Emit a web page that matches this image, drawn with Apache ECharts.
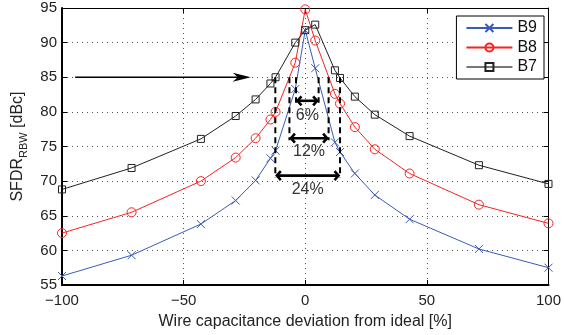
<!DOCTYPE html>
<html>
<head>
<meta charset="utf-8">
<script src="https://cdn.jsdelivr.net/npm/echarts@6/dist/echarts.min.js"></script>
<style>
  html, body { margin: 0; padding: 0; background: #fff; }
  #main { width: 564px; height: 335px; }
</style>
</head>
<body>
<div id="main"></div>
<script>
// capacitance deviation [%]
const deviation = [-100, -71.4, -42.9, -28.6, -20.4, -14.3, -12.2, -4.1, 0, 4.1, 12.2, 14.3, 20.4, 28.6, 42.9, 71.4, 100]
// SFDR_RBW [dBc] per resolution
const sfdrB9 = [56.3, 59.3, 63.8, 67.2, 70.1, 73.3, 74.4, 83.3, 91.8, 86.3, 75.6, 74.2, 71.1, 68.0, 64.5, 60.2, 57.5]
const sfdrB8 = [62.5, 65.5, 70.0, 73.4, 76.2, 78.9, 80.0, 87.1, 94.8, 90.3, 82.6, 81.2, 77.8, 74.6, 71.1, 66.6, 63.9]
const sfdrB7 = [68.8, 71.9, 76.1, 79.4, 81.8, 84.1, 85.0, 90.0, 91.8, 92.6, 86.0, 84.9, 82.2, 79.6, 76.5, 72.3, 69.6]
const seriesNames = ['B9', 'B8', 'B7']

// annotation: spans where each curve stays above 85 dBc
const refLevel = 85
const refArrowFrom = -94.6
const refArrowTo = -22.4
const spanLabels = ['6%', '12%', '24%']
const spanLeft = [-3.8, -6.5, -12.3]
const spanRight = [5.5, 9.6, 14.3]
const spanArrowY = [81.6, 76.2, 70.8]
const spanTextY = [79.5, 74.2, 68.8]

const FONT = 'Liberation Sans, Arial, Helvetica, sans-serif'
const BLUE = '#3a5cb8'
const RED = '#f52424'
const BLACK = '#222'

function pairs(ys) {
  return deviation.map((x, i) => [x, ys[i]])
}

function minusSign(v) {
  return String(v).replace('-', '\u2212')
}

// 85 dBc reference arrow
function renderRefArrow(params, api) {
  const a = api.coord([api.value(0), api.value(2)])
  const b = api.coord([api.value(1), api.value(2)])
  const len = 18, half = 4.5, notch = 13
  return {
    type: 'group',
    children: [
      { type: 'line', shape: { x1: a[0], y1: a[1], x2: b[0] - notch, y2: b[1] }, style: { stroke: '#000', lineWidth: 1.6 } },
      {
        type: 'polygon',
        shape: { points: [[b[0], b[1]], [b[0] - len, b[1] - half], [b[0] - notch, b[1]], [b[0] - len, b[1] + half]] },
        style: { fill: '#000' }
      }
    ]
  }
}

// dashed drop lines + double arrow + percent label
function renderSpan(params, api) {
  const l = api.coord([api.value(0), refLevel])
  const r = api.coord([api.value(1), refLevel])
  const yb = api.coord([0, api.value(2)])[1]
  const yt = api.coord([0, api.value(3)])[1]
  const x1 = l[0], x2 = r[0]
  const dash = { stroke: '#000', lineWidth: 2, lineDash: [6, 4], fill: null }
  const arr = { stroke: '#000', lineWidth: 2.6, fill: null }
  const h = 4.5
  return {
    type: 'group',
    children: [
      { type: 'line', shape: { x1: x1, y1: l[1], x2: x1, y2: yb + 2 }, style: dash },
      { type: 'line', shape: { x1: x2, y1: r[1], x2: x2, y2: yb + 2 }, style: dash },
      { type: 'line', shape: { x1: x1 + 2, y1: yb, x2: x2 - 2, y2: yb }, style: arr },
      { type: 'polyline', shape: { points: [[x1 + h + 1, yb - h], [x1 + 1.5, yb], [x1 + h + 1, yb + h]] }, style: arr },
      { type: 'polyline', shape: { points: [[x2 - h - 1, yb - h], [x2 - 1.5, yb], [x2 - h - 1, yb + h]] }, style: arr },
      {
        type: 'text',
        x: (x1 + x2) / 2,
        y: yt,
        style: {
          text: spanLabels[params.dataIndex],
          fontFamily: FONT,
          fontSize: 16,
          fill: '#333',
          align: 'center',
          verticalAlign: 'middle'
        }
      }
    ]
  }
}

const myChart = echarts.init(document.getElementById('main'))

const axisText = { fontFamily: FONT, fontSize: 15, color: '#222' }
const dotted = { show: true, lineStyle: { color: '#555', type: [1, 4], width: 1 } }

const option = {
  animation: false,
  backgroundColor: '#fff',
  textStyle: { fontFamily: FONT },
  grid: { left: 62, right: 13, top: 8, bottom: 48 },
  legend: {
    data: [
      { name: 'B9' },
      { name: 'B8' },
      { name: 'B7', lineStyle: { color: '#777', width: 2 } }
    ],
    orient: 'vertical',
    right: 20,
    top: 16,
    backgroundColor: '#fff',
    borderColor: '#000',
    borderWidth: 1,
    borderRadius: 0,
    padding: [4, 7, 4, 9],
    itemWidth: 46,
    itemHeight: 10,
    itemGap: 3.5,
    textStyle: { fontFamily: FONT, fontSize: 16, color: '#111' }
  },
  xAxis: [
    {
      type: 'value',
      min: -100,
      max: 100,
      interval: 50,
      name: 'Wire capacitance deviation from ideal [%]',
      nameLocation: 'middle',
      nameGap: 29,
      nameTextStyle: { fontFamily: FONT, fontSize: 16, color: '#222' },
      axisLine: { show: true, onZero: false, lineStyle: { color: '#000', width: 2 } },
      axisTick: { show: true, inside: true, length: 5, lineStyle: { color: '#000' } },
      axisLabel: Object.assign({ margin: 8, formatter: minusSign }, axisText),
      splitLine: dotted
    },
    {
      type: 'value',
      position: 'top',
      min: -100,
      max: 100,
      interval: 50,
      axisLine: { show: true, onZero: false, lineStyle: { color: '#000', width: 1 } },
      axisTick: { show: true, inside: true, length: 5, lineStyle: { color: '#000' } },
      axisLabel: { show: false },
      splitLine: { show: false }
    }
  ],
  yAxis: [
    {
      type: 'value',
      min: 55,
      max: 95,
      interval: 5,
      name: '{a|SFDR}{b|RBW}{a| [dBc]}',
      nameLocation: 'middle',
      nameGap: 33,
      nameMoveOverlap: false,
      nameTextStyle: {
        rich: {
          a: { fontFamily: FONT, fontSize: 16, color: '#222', lineHeight: 22 },
          b: { fontFamily: FONT, fontSize: 11, color: '#222', lineHeight: 8, verticalAlign: 'bottom' }
        }
      },
      axisLine: { show: true, onZero: false, lineStyle: { color: '#000', width: 2 } },
      axisTick: { show: true, inside: true, length: 5, lineStyle: { color: '#000' } },
      axisLabel: Object.assign({ margin: 5 }, axisText),
      splitLine: dotted
    },
    {
      type: 'value',
      position: 'right',
      min: 55,
      max: 95,
      interval: 5,
      axisLine: { show: true, onZero: false, lineStyle: { color: '#000', width: 1 } },
      axisTick: { show: true, inside: true, length: 5, lineStyle: { color: '#000' } },
      axisLabel: { show: false },
      splitLine: { show: false }
    }
  ],
  series: [
    {
      name: 'B9',
      type: 'line',
      data: pairs(sfdrB9),
      clip: false,
      symbol: 'path://M0,0L10,10M10,0L0,10',
      symbolSize: 8,
      itemStyle: { color: 'none', borderColor: BLUE, borderWidth: 1 },
      lineStyle: { color: BLUE, width: 1 },
      z: 3
    },
    {
      name: 'B8',
      type: 'line',
      data: pairs(sfdrB8),
      clip: false,
      symbol: 'circle',
      symbolSize: 9,
      itemStyle: { color: 'none', borderColor: RED, borderWidth: 1 },
      lineStyle: { color: RED, width: 1 },
      z: 4
    },
    {
      name: 'B7',
      type: 'line',
      data: pairs(sfdrB7),
      clip: false,
      symbol: 'rect',
      symbolSize: 7,
      itemStyle: { color: 'none', borderColor: BLACK, borderWidth: 1 },
      lineStyle: { color: BLACK, width: 1 },
      z: 5
    },
    {
      type: 'custom',
      silent: true,
      renderItem: renderRefArrow,
      data: [[refArrowFrom, refArrowTo, refLevel]],
      z: 6
    },
    {
      type: 'custom',
      silent: true,
      renderItem: renderSpan,
      data: spanLabels.map((t, i) => [spanLeft[i], spanRight[i], spanArrowY[i], spanTextY[i]]),
      z: 6
    }
  ]
}

myChart.setOption(option)
</script>
</body>
</html>
